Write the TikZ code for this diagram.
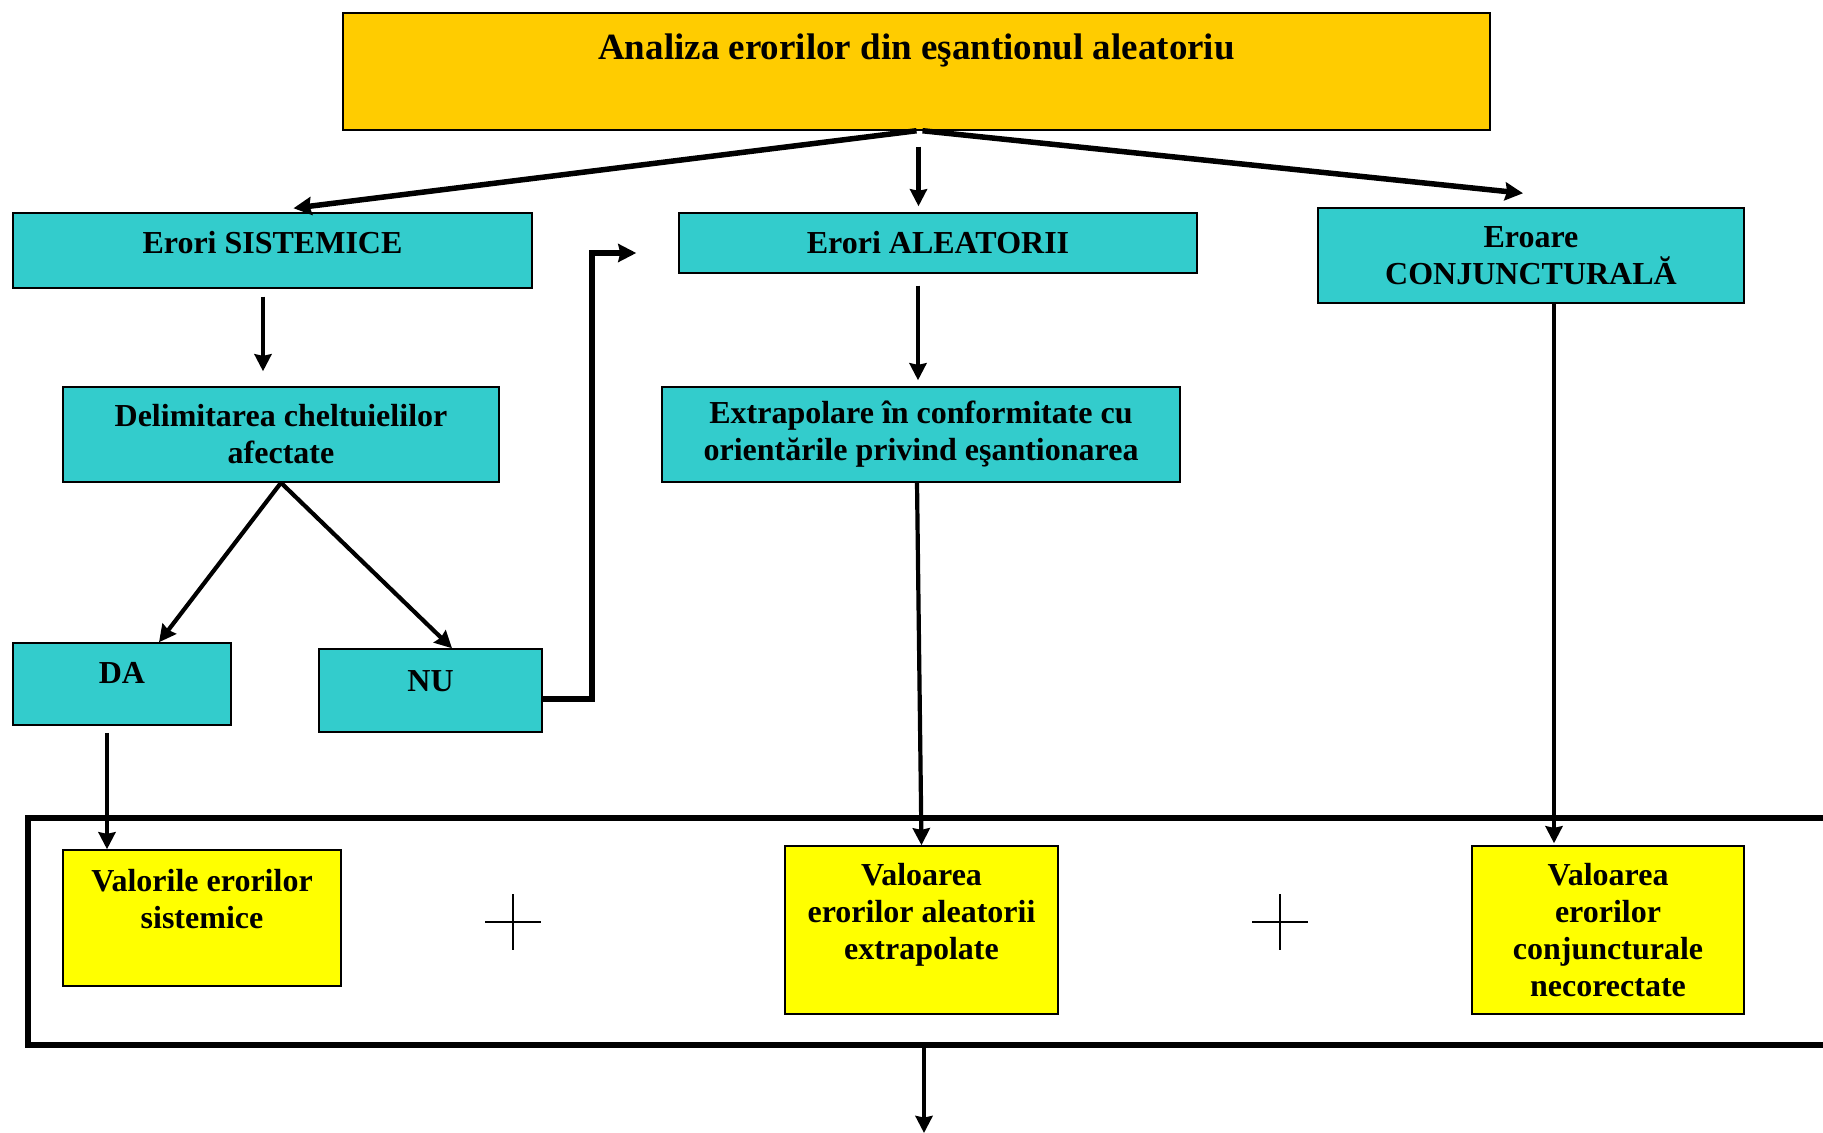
\documentclass[tikz,border=0pt]{standalone}
\usepackage{fontspec}
\setmainfont{Liberation Serif}
\usepackage{xcolor}
\usetikzlibrary{positioning,arrows.meta,calc}

\definecolor{errcol}{RGB}{51,204,204}
\definecolor{titlecol}{RGB}{255,204,0}
\definecolor{valcol}{RGB}{255,255,0}

\begin{document}
\begin{tikzpicture}[
  x=0.5pt, y=-0.5pt,
  font=\fontsize{16}{18.5}\selectfont\bfseries,
  errbox/.style={draw, line width=0.75pt, fill=errcol, align=center, inner sep=2pt},
  titlebox/.style={draw, line width=0.75pt, fill=titlecol, align=center, font=\fontsize{18.5}{21}\selectfont\bfseries},
  valbox/.style={draw, line width=0.75pt, fill=valcol, align=center, inner sep=2pt},
  sumframe/.style={draw, line width=2.75pt},
  arr/.style={line width=2.1pt, -{Stealth[length=8.5pt,width=8.5pt,inset=0.8pt]}},
  arrw/.style={line width=2.75pt, -{Stealth[length=9pt,width=9pt,inset=1pt]}},
  plus/.style={line width=0.8pt}
]
\useasboundingbox (0,0) rectangle (1823,1133);

% top level
\node[titlebox, minimum width=573.5pt, minimum height=58.5pt, text height=13pt, text depth=24.5pt] (top) at (916.5,71.5) {Analiza erorilor din eşantionul aleatoriu};

% error kinds
\node[errbox, minimum width=259.5pt, minimum height=37.5pt, text height=11pt, text depth=7.9pt] (sist) at (272.5,250.5) {Erori SISTEMICE};
\node[errbox, minimum width=259pt, minimum height=30pt] (aleat) at (938,243) {Erori ALEATORII};
\node[errbox, minimum width=213pt, minimum height=47.5pt] (conj) at (1531,255.5) {Eroare\\CONJUNCTURALĂ};

\node[errbox, minimum width=218pt, minimum height=47.5pt] (delim) at (281,434.5) {Delimitarea cheltuielilor\\afectate};
\node[errbox, minimum width=259pt, minimum height=47.5pt] (extrap) at (921,434.5) {Extrapolare în conformitate cu\\orientările privind eşantionarea};

\node[errbox, minimum width=109pt, minimum height=41pt, text height=11pt, text depth=11.4pt] (da) at (122,684) {DA};
\node[errbox, minimum width=111.5pt, minimum height=41.5pt, text height=11pt, text depth=10.4pt] (nu) at (430.5,690.5) {NU};

% sum of values
\node[sumframe, minimum width=906pt, minimum height=113.5pt] (sum) at (934,931.5) {};
\node[valbox, minimum width=139pt, minimum height=68pt] (valsis) at (202,918) {Valorile erorilor\\sistemice\\[1pt]\mbox{}};
\node[valbox, minimum width=136.5pt, minimum height=84pt] (valale) at (921.5,930) {Valoarea\\erorilor aleatorii\\extrapolate\\[0pt]\mbox{}};
\node[valbox, minimum width=136pt, minimum height=84pt] (valconj) at (1608,930) {Valoarea\\erorilor\\conjuncturale\\necorectate};
\draw[plus] (513,894) -- (513,950) (485,922) -- (541,922);
\draw[plus] (1280,894) -- (1280,950) (1252,922) -- (1308,922);
\coordinate (out) at (924,1133);

% connectors
\draw[arrw] (top.south) -- ([shift={(21,-4)}]sist.north);
\draw[arr, shorten <=8pt, shorten >=3pt] ([xshift=1pt]top.south) -- ([xshift=1pt]top.south |- aleat.north);
\draw[arrw] ([xshift=3pt]top.south) -- ([shift={(-8,-14)}]conj.north);
\draw[arr, shorten <=4pt, shorten >=7.5pt] ([xshift=-4.75pt]sist.south) -- ([xshift=-4.75pt]sist.south |- delim.north);
\draw[arr, shorten <=6pt, shorten >=3pt] ([xshift=-10pt]aleat.south) -- ([xshift=-10pt]aleat.south |- extrap.north);
\draw[arr] (delim.south) -- ([xshift=18.5pt]da.north);
\draw[arr] (delim.south) -- ([xshift=10.75pt]nu.north);
\draw[arrw] ([yshift=-4.25pt]nu.east) -- ++(49,0) |- ([shift={(-42,10)}]aleat.west);
\draw[arr, shorten <=3.5pt] ([xshift=-7.5pt]da.south) -- ([xshift=-7.5pt]da.south |- valsis.north);
\draw[arr] ([xshift=-2pt]extrap.south) -- (valale.north);
\draw[arr, shorten >=1pt] ([xshift=11.5pt]conj.south) -- ([xshift=11.5pt]conj.south |- valconj.north);
\draw[arr] (sum.south -| out) -- (out);
\end{tikzpicture}
\end{document}
